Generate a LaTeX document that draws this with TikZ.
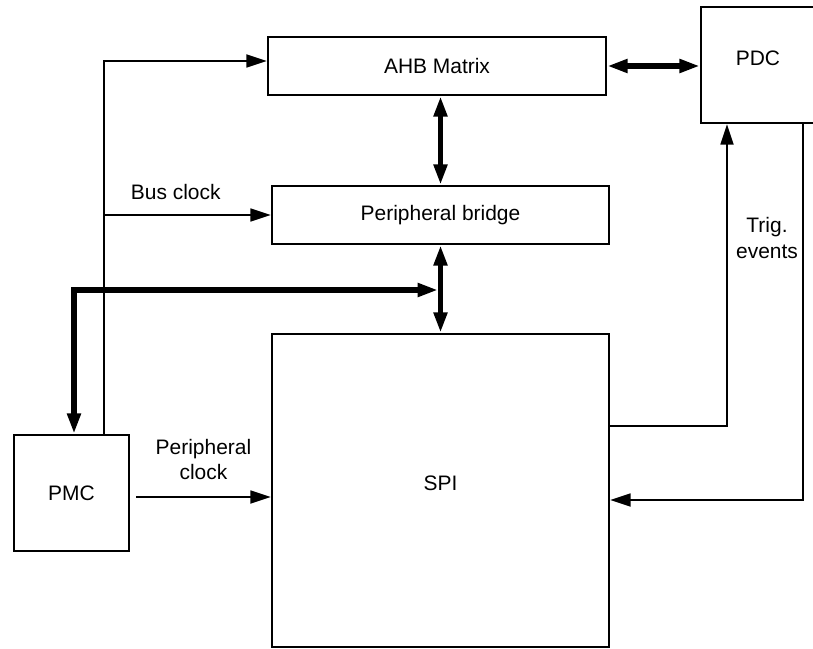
\documentclass[tikz,border=0pt]{standalone}
\usepackage{fontspec}
\setmainfont{Liberation Sans}
\usetikzlibrary{arrows.meta, calc}

\begin{document}
\begin{tikzpicture}[x=0.025cm, y=-0.025cm, >={Triangle[length=14.5pt, width=9.2pt]},
  every node/.style={font=\fontsize{14.9}{18.2}\selectfont},
  block/.style={draw, line width=1.7pt, inner sep=0pt},
  link/.style={line width=1.4pt},
  bus/.style={line width=3.6pt}]
  \useasboundingbox (0,0) rectangle (813,649);
  % blocks
  \node[block, minimum width=8.45cm, minimum height=1.45cm] (ahb) at (437,66) {AHB Matrix};
  \node[block, minimum width=8.425cm, minimum height=1.45cm] (bridge) at (440.5,215) {Peripheral bridge};
  \node[block, minimum width=8.425cm, minimum height=7.825cm, text depth=10pt] (spi) at (440.5,490.5) {SPI};
  \node[block, minimum width=2.85cm, minimum height=2.9cm, text depth=10pt] (pdc) at (758,65) {PDC};
  \node[block, minimum width=2.875cm, minimum height=2.9cm] (pmc) at (71.5,493) {PMC};
  \coordinate (clkline) at (104,0);
  \coordinate (buscorner) at (74,290);
  \coordinate (busjoin) at (438,290);
  % system bus
  \draw[bus, <->] (ahb.east) -- (ahb.east -| pdc.west);
  \draw[bus, <->] (bridge.north |- ahb.south) -- (bridge.north);
  \draw[bus, <->] (bridge.south) -- (spi.north);
  \draw[bus, <->] (busjoin) -- (buscorner) -- (buscorner |- pmc.north);
  % clocks
  \draw[link, ->] (pmc.north -| clkline) |- ($(ahb.west)+(0,-5)$);
  \draw[link, ->] (clkline |- bridge.west) -- (bridge.west) node[pos=0.43, above=7pt] {Bus clock};
  \draw[link, ->] ($(pmc.east)+(6,4)$) -- ($(spi.west)+(0,6.5)$) node[midway, above=8pt, align=center] {Peripheral\\clock};
  % triggers
  \draw[link, ->] ($(spi.east)+(0,-64.5)$) -| ($(pdc.south)+(-31,0)$);
  \draw[link, ->] ($(pdc.south)+(45,0)$) |- ($(spi.east)+(0,9.5)$);
  \node[align=center] (trig) at (767,238) {Trig.\\events};
\end{tikzpicture}
\end{document}
